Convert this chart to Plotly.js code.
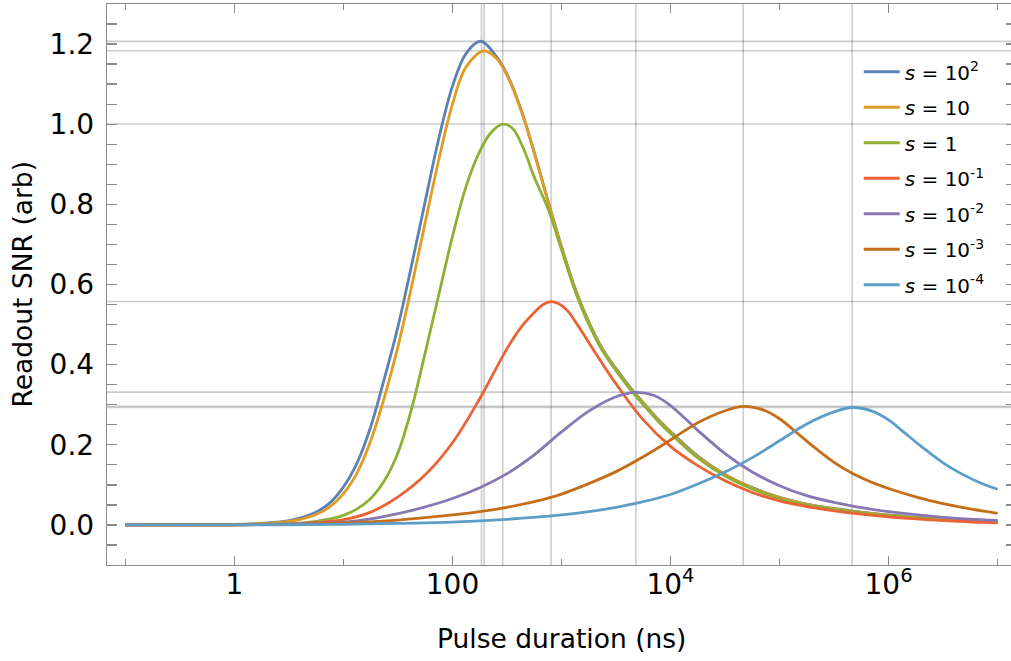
<!DOCTYPE html>
<html>
<head>
<meta charset="utf-8">
<script src="https://cdn.plot.ly/plotly-3.0.1.min.js"></script>
<style>
html, body { margin: 0; padding: 0; overflow: hidden; background: #fff; }
#chart { width: 1030px; height: 661px; }
</style>
</head>
<body>
<div id="chart"></div>
<script>
// Series labels and colours
const seriesNames = ['<i>s</i> = 10<sup>2</sup>', '<i>s</i> = 10', '<i>s</i> = 1', '<i>s</i> = 10<sup>-1</sup>',
  '<i>s</i> = 10<sup>-2</sup>', '<i>s</i> = 10<sup>-3</sup>', '<i>s</i> = 10<sup>-4</sup>'];
const seriesColors = ['#5E81B5', '#E19C24', '#8FB032', '#EB6235', '#8778B3', '#C56E1A', '#5D9EC7'];

// Pulse duration sample positions as log10(ns); SNR values
const logT_s1e2 = [-1, -0.5, 0, 0.25, 0.5, 0.625, 0.75, 0.875, 1, 1.125, 1.25, 1.375, 1.5, 1.625, 1.75, 1.875, 2, 2.125, 2.26, 2.4, 2.5, 2.625, 2.75, 2.875, 3, 3.125, 3.25, 3.375, 3.5, 3.625, 3.75, 3.875, 4, 4.25, 4.5, 4.75, 5, 5.25, 5.5, 5.75, 6, 6.25, 6.5, 6.75, 7];
const snr_s1e2  = [0, 0.0002, 0.0012, 0.004, 0.011, 0.019, 0.032, 0.055, 0.095, 0.155, 0.245, 0.365, 0.495, 0.648, 0.808, 0.965, 1.095, 1.177, 1.207, 1.17, 1.125, 1.04, 0.93, 0.81, 0.695, 0.59, 0.507, 0.44, 0.39, 0.345, 0.305, 0.267, 0.233, 0.172, 0.126, 0.093, 0.069, 0.052, 0.041, 0.032, 0.025, 0.019, 0.0145, 0.0105, 0.0075];

const logT_s1e1 = [-1, -0.5, 0, 0.25, 0.5, 0.625, 0.75, 0.875, 1, 1.125, 1.25, 1.375, 1.5, 1.625, 1.75, 1.875, 2, 2.125, 2.29, 2.4, 2.5, 2.625, 2.75, 2.875, 3, 3.125, 3.25, 3.375, 3.5, 3.625, 3.75, 3.875, 4, 4.25, 4.5, 4.75, 5, 5.25, 5.5, 5.75, 6, 6.25, 6.5, 6.75, 7];
const snr_s1e1  = [0, 0.0001, 0.001, 0.0033, 0.009, 0.015, 0.026, 0.045, 0.078, 0.13, 0.21, 0.318, 0.445, 0.595, 0.755, 0.912, 1.05, 1.143, 1.183, 1.165, 1.122, 1.038, 0.928, 0.808, 0.693, 0.588, 0.505, 0.438, 0.388, 0.343, 0.303, 0.265, 0.231, 0.17, 0.125, 0.092, 0.068, 0.051, 0.04, 0.031, 0.024, 0.0185, 0.014, 0.010, 0.007];

const logT_s1e0 = [-1, -0.5, 0, 0.5, 0.75, 0.875, 1, 1.125, 1.25, 1.375, 1.5, 1.625, 1.75, 1.875, 2, 2.125, 2.25, 2.35, 2.46, 2.55, 2.65, 2.75, 2.875, 3, 3.125, 3.25, 3.375, 3.5, 3.625, 3.75, 3.875, 4, 4.25, 4.5, 4.75, 5, 5.25, 5.5, 5.75, 6, 6.25, 6.5, 6.75, 7];
const snr_s1e0  = [0, 0, 0.0004, 0.003, 0.009, 0.015, 0.024, 0.04, 0.066, 0.11, 0.18, 0.29, 0.43, 0.575, 0.72, 0.845, 0.932, 0.978, 1.0, 0.99, 0.94, 0.868, 0.79, 0.687, 0.584, 0.501, 0.435, 0.385, 0.34, 0.3, 0.262, 0.228, 0.167, 0.122, 0.09, 0.066, 0.05, 0.039, 0.03, 0.023, 0.018, 0.0135, 0.0095, 0.0065];

const logT_s1em1 = [-1, -0.5, 0, 0.5, 0.75, 1, 1.25, 1.5, 1.75, 2, 2.25, 2.5, 2.625, 2.75, 2.825, 2.9, 2.975, 3.05, 3.15, 3.25, 3.5, 3.75, 4, 4.25, 4.5, 4.75, 5, 5.25, 5.5, 5.75, 6, 6.5, 7];
const snr_s1em1  = [0, 0, 0.0003, 0.002, 0.006, 0.013, 0.032, 0.07, 0.125, 0.205, 0.315, 0.44, 0.492, 0.53, 0.549, 0.557, 0.552, 0.536, 0.498, 0.455, 0.352, 0.262, 0.196, 0.148, 0.11, 0.081, 0.06, 0.046, 0.035, 0.027, 0.02, 0.011, 0.005];

const logT_s1em2 = [-1, -0.5, 0, 0.5, 1, 1.25, 1.5, 1.75, 2, 2.25, 2.5, 2.75, 3, 3.25, 3.5, 3.682, 3.85, 4, 4.25, 4.5, 4.75, 5, 5.25, 5.5, 5.75, 6, 6.5, 7];
const snr_s1em2  = [0, 0, 0.0005, 0.0025, 0.007, 0.015, 0.028, 0.045, 0.066, 0.093, 0.128, 0.175, 0.232, 0.284, 0.32, 0.331, 0.323, 0.298, 0.236, 0.178, 0.132, 0.098, 0.073, 0.056, 0.043, 0.033, 0.019, 0.011];

const logT_s1em3 = [-1, 0, 0.5, 1, 1.5, 2, 2.25, 2.5, 2.75, 3, 3.25, 3.5, 3.75, 4, 4.25, 4.5, 4.666, 4.85, 5, 5.15, 5.3, 5.5, 5.666, 5.85, 6, 6.25, 6.5, 6.75, 7];
const snr_s1em3  = [0, 0.0005, 0.0015, 0.005, 0.012, 0.025, 0.033, 0.044, 0.058, 0.077, 0.103, 0.133, 0.17, 0.212, 0.255, 0.285, 0.296, 0.287, 0.265, 0.232, 0.198, 0.156, 0.129, 0.106, 0.091, 0.07, 0.053, 0.04, 0.029];

const logT_s1em4 = [-1, 0, 1, 1.5, 2, 2.5, 3, 3.25, 3.5, 3.75, 4, 4.25, 4.5, 4.75, 5, 5.25, 5.5, 5.666, 5.85, 6, 6.15, 6.3, 6.5, 6.666, 6.85, 7];
const snr_s1em4  = [0, 0.0002, 0.0015, 0.004, 0.007, 0.014, 0.025, 0.033, 0.044, 0.058, 0.076, 0.102, 0.132, 0.168, 0.21, 0.252, 0.282, 0.293, 0.284, 0.262, 0.229, 0.196, 0.155, 0.128, 0.104, 0.089];

// Grid lines at each curve's peak (duration in ns, SNR value)
const peakDurations = [184.6, 195, 289, 803, 4808, 46380, 463400];
const peakValues = [1.2067, 1.1835, 1.0005, 0.5575, 0.3313, 0.2962, 0.2932];

// Axis ticks
const xMajorTicks = [1, 100, 1e4, 1e6];
const xMajorText = ['1', '100', '10<sup>4</sup>', '10<sup>6</sup>'];
const xMinorTicks = [0.1, 10, 1000, 1e5, 1e7];

const allLogT = [logT_s1e2, logT_s1e1, logT_s1e0, logT_s1em1, logT_s1em2, logT_s1em3, logT_s1em4];
const allSnr = [snr_s1e2, snr_s1e1, snr_s1e0, snr_s1em1, snr_s1em2, snr_s1em3, snr_s1em4];

const traces = allLogT.map((lt, i) => ({
  type: 'scatter',
  mode: 'lines',
  x: lt.map(v => Math.pow(10, v)),
  y: allSnr[i],
  name: seriesNames[i],
  legendgroup: 'g' + i,
  line: { color: seriesColors[i], width: 2.8, shape: 'spline', smoothing: 1 },
  hoverinfo: 'skip'
}));
// empty helper trace so the tick-label axis is laid out
traces.push({ type: 'scatter', mode: 'lines', x: [], y: [], xaxis: 'x2', yaxis: 'y', showlegend: false, hoverinfo: 'skip' });

const gridColor = 'rgba(0,0,0,0.2)';
const shapes = [];
peakDurations.forEach(d => shapes.push({
  type: 'line', layer: 'below', xref: 'x', yref: 'paper', x0: d, x1: d, y0: 0, y1: 1,
  line: { color: gridColor, width: 1.6 }
}));
peakValues.forEach(v => shapes.push({
  type: 'line', layer: 'below', xref: 'paper', yref: 'y', x0: 0, x1: 1, y0: v, y1: v,
  line: { color: gridColor, width: 1.6 }
}));

const frameColor = '#8a8a8a';
const tickFont = { size: 28, family: 'DejaVu Sans, sans-serif', color: '#000' };
const layout = {
  width: 1030, height: 661,
  margin: { l: 107, r: 14, t: 4, b: 96 },
  paper_bgcolor: '#fff', plot_bgcolor: '#fff',
  font: { family: 'DejaVu Sans, sans-serif', color: '#000' },
  showlegend: true,
  legend: {
    x: 0.827, y: 0.914, xanchor: 'left', yanchor: 'top',
    bgcolor: 'rgba(0,0,0,0)', font: { size: 20, family: 'DejaVu Sans, sans-serif', color: '#000' },
    tracegroupgap: 6.5, itemwidth: 36
  },
  xaxis: {
    type: 'log', range: [-1.169, 7.169],
    showline: true, linecolor: frameColor, linewidth: 1.3, mirror: 'allticks',
    showgrid: false, zeroline: false,
    ticks: 'inside', ticklen: 9, tickwidth: 1.3, tickcolor: frameColor,
    tickmode: 'array', tickvals: xMajorTicks, showticklabels: false,
    minor: { tickmode: 'array', tickvals: xMinorTicks, ticks: 'inside', ticklen: 6, tickwidth: 1.3, tickcolor: frameColor, showgrid: false }
  },
  xaxis2: {
    type: 'log', range: [-1.169, 7.169], overlaying: 'x', anchor: 'free', position: 0, side: 'bottom',
    showline: false, showgrid: false, zeroline: false, ticks: '',
    tickmode: 'array', tickvals: xMajorTicks, ticktext: xMajorText, tickfont: tickFont
  },
  yaxis: {
    range: [-0.1, 1.3],
    showline: true, linecolor: frameColor, linewidth: 1.3, mirror: 'allticks',
    showgrid: false, zeroline: false,
    ticks: 'inside', ticklen: 10, tickwidth: 1.3, tickcolor: frameColor,
    tickmode: 'linear', tick0: 0, dtick: 0.2, tickformat: '.1f',
    tickfont: tickFont,
    ticklabelstandoff: 6,
    minor: { dtick: 0.05, tick0: 0, ticks: 'inside', ticklen: 6.5, tickwidth: 1.3, tickcolor: frameColor, showgrid: false }
  },
  shapes: shapes,
  annotations: [
    { text: 'Pulse duration (ns)', xref: 'paper', yref: 'paper', x: 0.5, y: -0.1319,
      xanchor: 'center', yanchor: 'middle', showarrow: false,
      font: { size: 26.5, family: 'DejaVu Sans, sans-serif', color: '#000' } },
    { text: 'Readout SNR (arb)', xref: 'paper', yref: 'paper', x: -0.0935, y: 0.5,
      xanchor: 'center', yanchor: 'middle', textangle: -90, showarrow: false,
      font: { size: 26.5, family: 'DejaVu Sans, sans-serif', color: '#000' } }
  ]
};

Plotly.newPlot('chart', traces, layout, { displayModeBar: false, staticPlot: true });
</script>
</body>
</html>
